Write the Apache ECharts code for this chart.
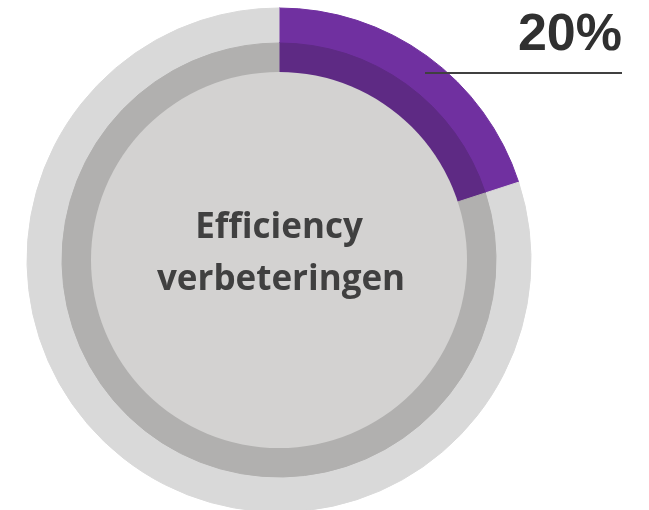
<!DOCTYPE html>
<html>
<head>
<meta charset="utf-8">
<script src="https://cdn.jsdelivr.net/npm/echarts@6/dist/echarts.min.js"></script>
<style>
html,body{margin:0;padding:0;background:#fff;}
#main{width:649px;height:510px;}
</style>
</head>
<body>
<div id="main"></div>
<script>
// aandeel efficiency vs rest
var names = ['Efficiency verbeteringen', 'Overig'];
var share = [20, 80];
var centerTitle = ['Efficiency', 'verbeteringen'];

var outerColors = ['#7030a0', '#d9d9d9'];
var innerColors = ['#5e2a84', '#b1b0af'];

// border in dezelfde kleur om naden tussen de segmenten te verbergen
function ringData(colors){
	return share.map(function(v, i){
		return {
			value: v,
			name: names[i],
			itemStyle: {color: colors[i], borderColor: colors[i], borderWidth: 1}
		};
	});
}

var myChart = echarts.init(document.getElementById('main'));
var cx = 279, cy = 260;
var option = {
	animation: false,
	graphic: [
		{
			type: 'line',
			shape: {x1: 425, y1: 73, x2: 622, y2: 73},
			style: {stroke: '#404040', lineWidth: 2},
			z: 10
		},
		{
			type: 'text',
			right: 27, top: 10,
			style: {
				text: share[0] + '%',
				font: 'bold 52px "Liberation Sans", Arial, sans-serif',
				fill: '#303030'
			},
			z: 10
		},
		{
			type: 'text',
			x: cx, y: 211,
			style: {
				text: centerTitle[0],
				font: 'bold 35px "Open Sans", sans-serif',
				fill: '#404040',
				align: 'center',
				verticalAlign: 'top'
			},
			z: 10
		},
		{
			type: 'text',
			x: cx + 2, y: 263,
			style: {
				text: centerTitle[1],
				font: 'bold 35px "Open Sans", sans-serif',
				fill: '#404040',
				align: 'center',
				verticalAlign: 'top'
			},
			z: 10
		}
	],
	series: [
		{
			type: 'pie',
			center: [cx, cy],
			radius: [180, 252],
			silent: true,
			z: 1,
			label: {show: false},
			data: ringData(outerColors)
		},
		{
			type: 'pie',
			center: [cx, cy],
			radius: [150, 217],
			silent: true,
			z: 2,
			label: {show: false},
			data: ringData(innerColors)
		},
		{
			type: 'pie',
			center: [cx, cy],
			radius: [0, 188],
			silent: true,
			z: 3,
			label: {show: false},
			itemStyle: {borderWidth: 0},
			data: [{value: 1, itemStyle: {color: '#d3d2d1'}}]
		}
	]
};
myChart.setOption(option);
</script>
</body>
</html>
